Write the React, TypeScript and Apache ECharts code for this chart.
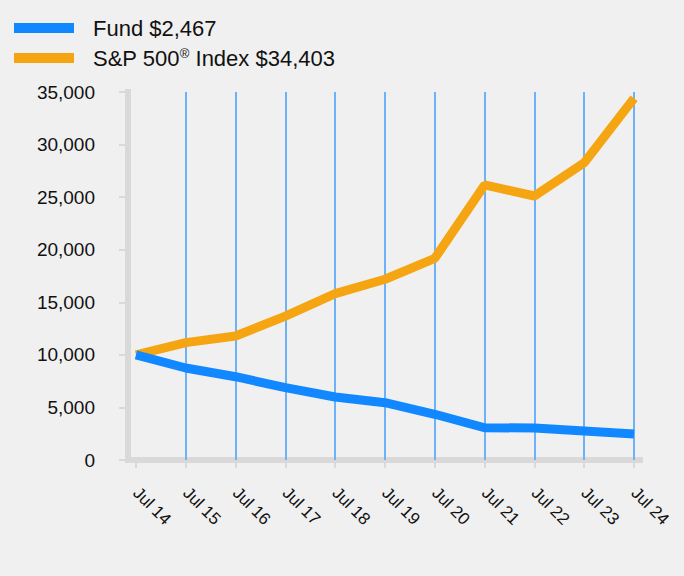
import React, { useEffect, useRef } from "react";
import * as echarts from "echarts";

const categories = ["Jul 14", "Jul 15", "Jul 16", "Jul 17", "Jul 18", "Jul 19", "Jul 20", "Jul 21", "Jul 22", "Jul 23", "Jul 24"];
const fundValues = [10000, 8750, 7920, 6880, 5990, 5450, 4350, 3070, 3040, 2760, 2467];
const spValues = [10000, 11160, 11790, 13690, 15820, 17190, 19180, 26160, 25110, 28280, 34403];
const yTicks = [0, 5000, 10000, 15000, 20000, 25000, 30000, 35000];
const fundName = "Fund $2,467";
const spName = "S&P 500® Index $34,403";

const FONT = "'Liberation Sans', Arial, sans-serif";

export default function App() {
  const ref = useRef<HTMLDivElement>(null);
  useEffect(() => {
    document.body.style.margin = "0";
    document.body.style.background = "#f0f0f0";
    const chart = echarts.init(ref.current!, null, { renderer: "svg" });
    const idx = categories.map((_, i) => i);
    const splitIdx = idx.slice(1);
    chart.setOption({
      animation: false,
      backgroundColor: "#f0f0f0",
      textStyle: { fontFamily: FONT, color: "#111" },
      legend: {
        orient: "vertical",
        left: 14,
        top: 17,
        padding: 0,
        itemGap: 8,
        itemWidth: 60,
        itemHeight: 10,
        icon: "rect",
        data: [fundName, spName],
        formatter: (name: string) => name.replace("®", "{r|®}"),
        textStyle: {
          fontFamily: FONT,
          fontSize: 22,
          color: "#111",
          padding: [0, 0, 0, 14],
          rich: {
            r: { fontSize: 13, fontFamily: FONT, color: "#111", verticalAlign: "top", padding: [0, 0, 0, 0] },
          },
        },
      },
      grid: { left: 128, right: 44, top: 92, bottom: 116 },
      xAxis: {
        type: "value",
        min: -0.16,
        max: 10.12,
        axisLine: { show: true, onZero: false, lineStyle: { color: "#d9d9d9", width: 6, cap: "square" } },
        axisTick: { show: true, customValues: idx, length: 8, lineStyle: { color: "#d9d9d9", width: 2 } },
        axisLabel: {
          customValues: idx,
          rotate: -45,
          margin: 30,
          fontSize: 17,
          color: "#111",
          fontFamily: FONT,
          formatter: (v: number) => categories[Math.round(v)] ?? "",
        },
        splitLine: { show: false },
      },
      yAxis: {
        type: "value",
        min: 0,
        max: 35000,
        interval: 5000,
        axisLine: { show: true, onZero: false, lineStyle: { color: "#d9d9d9", width: 6, cap: "square" } },
        axisTick: { show: true, length: 9, lineStyle: { color: "#d9d9d9", width: 2 } },
        axisLabel: {
          margin: 33,
          fontSize: 19,
          color: "#111",
          fontFamily: FONT,
          formatter: (v: number) => (yTicks.includes(v) ? v.toLocaleString("en-US") : ""),
        },
        splitLine: { show: false },
      },
      series: [
        {
          name: fundName,
          type: "line",
          z: 4,
          symbol: "none",
          showSymbol: false,
          data: fundValues.map((v, i) => [i, v]),
          itemStyle: { color: "#1188ff" },
          lineStyle: { color: "#1188ff", width: 9 },
        },
        {
          name: spName,
          type: "line",
          z: 3,
          symbol: "none",
          showSymbol: false,
          data: spValues.map((v, i) => [i, v]),
          itemStyle: { color: "#f5a511" },
          lineStyle: { color: "#f5a511", width: 9 },
          markLine: {
            silent: true,
            z: 1,
            symbol: "none",
            label: { show: false },
            lineStyle: { color: "#6db2f8", width: 2, type: "solid" },
            data: splitIdx.map((i) => ({ xAxis: i })),
          },
        },
      ],
    });
    return () => chart.dispose();
  }, []);
  return <div ref={ref} style={{ width: 684, height: 576 }} />;
}
